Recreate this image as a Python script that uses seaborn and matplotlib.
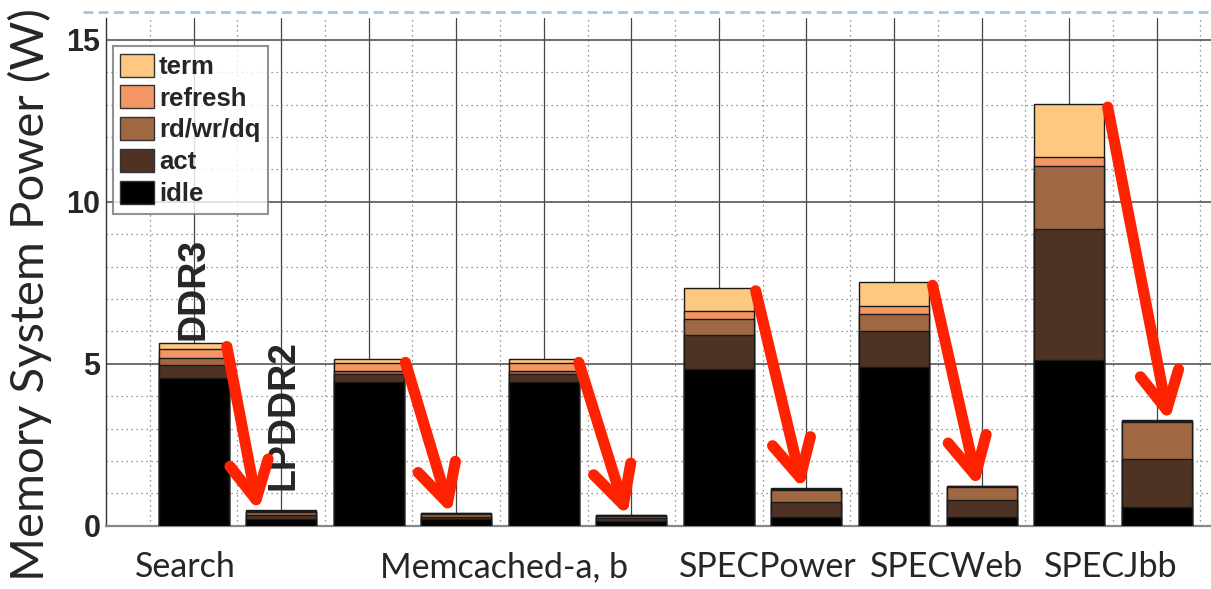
import numpy as np
import pandas as pd
import matplotlib
matplotlib.use("Agg")
import matplotlib.pyplot as plt
from matplotlib.patches import Patch
from matplotlib.lines import Line2D
import seaborn as sns

# one bar per (workload, memory type)
BARS = ["Search DDR3", "Search LPDDR2",
        "Memcached-a DDR3", "Memcached-a LPDDR2",
        "Memcached-b DDR3", "Memcached-b LPDDR2",
        "SPECPower DDR3", "SPECPower LPDDR2",
        "SPECWeb DDR3", "SPECWeb LPDDR2",
        "SPECJbb DDR3", "SPECJbb LPDDR2"]

# power components (W)
IDLE = [4.55, 0.20, 4.44, 0.20, 4.44, 0.16, 4.85, 0.27, 4.89, 0.27, 5.12, 0.57]
ACT = [0.41, 0.12, 0.23, 0.08, 0.23, 0.07, 1.04, 0.46, 1.12, 0.53, 4.04, 1.49]
RDWR = [0.21, 0.10, 0.10, 0.08, 0.10, 0.07, 0.48, 0.38, 0.51, 0.39, 1.93, 1.14]
REFRESH = [0.27, 0.04, 0.24, 0.02, 0.24, 0.02, 0.26, 0.03, 0.26, 0.03, 0.29, 0.04]
TERM = [0.19, 0.03, 0.13, 0.02, 0.13, 0.02, 0.72, 0.03, 0.74, 0.02, 1.64, 0.02]

COMPONENTS = ["idle", "act", "rd/wr/dq", "refresh", "term"]
COLORS = ["#000000", "#4e3223", "#a06842", "#f39664", "#fec880"]

GROUP_LABELS = ["Search", "Memcached-a, b", "SPECPower", "SPECWeb", "SPECJbb"]
GROUP_POS = [-0.09, 3.55, 6.56, 8.60, 10.47]

# arrow x offsets (start from DDR3 bar, end on LPDDR2 bar)
ARROW_FROM = [0, 2, 4, 6, 8, 10]
ARROW_START_DX = [0.38, 0.42, 0.40, 0.42, 0.44, 0.44]
ARROW_END_DX = [0.74, 0.94, 0.95, 0.96, 0.96, 1.14]

df = pd.DataFrame({"bar": BARS, "idle": IDLE, "act": ACT, "rd/wr/dq": RDWR,
                   "refresh": REFRESH, "term": TERM})
cum = df[COMPONENTS].cumsum(axis=1)
total = cum["term"].values

sns.set_style("white")
fig = plt.figure(figsize=(12.11, 5.89), dpi=100)
ax = fig.add_axes([106 / 1211, 1 - 525.7 / 589, 1 - 106 / 1211, (525.7 - 18) / 589])

# stacked bars: draw cumulative heights, tallest first
for comp, col in reversed(list(zip(COMPONENTS, COLORS))):
    sns.barplot(x=df["bar"], y=cum[comp], color=col, saturation=1, width=0.8,
                edgecolor="#1a1a1a", linewidth=1.0, ax=ax, zorder=3)

ax.set_xlim(-1, 11.62)
ax.set_ylim(0, 15.67)
ax.set_xticks(range(len(BARS)))
ax.set_xticks(np.arange(-0.5, len(BARS), 1), minor=True)
ax.set_yticks([0, 5, 10, 15])
ax.set_yticks(range(0, 16), minor=True)
ax.set_xticklabels([])
ax.set_xlabel("")
ax.set_ylabel("")
ax.grid(which="major", axis="x", color="#444444", linewidth=0.9, linestyle="-")
ax.grid(which="major", axis="y", color="#555555", linewidth=1.2, linestyle="-")
ax.grid(which="minor", color="#777777", linewidth=0.9, linestyle=(0, (1, 3)))
ax.set_axisbelow(True)
ax.tick_params(which="both", length=0)
ax.tick_params(axis="y", pad=4)
for lab in ax.get_yticklabels():
    lab.set_fontfamily("Liberation Sans")
    lab.set_fontweight("bold")
    lab.set_fontsize(22)

for side in ["top", "right"]:
    ax.spines[side].set_visible(False)
ax.spines["left"].set_color("#333333")
ax.spines["left"].set_linewidth(1.0)
ax.spines["bottom"].set_color("#888888")
ax.spines["bottom"].set_linewidth(1.6)

# memory type tags
ax.text(0, total[0] + 0.1, "DDR3", rotation=90, ha="center", va="bottom",
        fontsize=27, fontweight="bold", family="Liberation Sans", zorder=5)
ax.text(1.03, 1.1, "LPDDR2", rotation=90, ha="center", va="bottom",
        fontsize=27, fontweight="bold", family="Liberation Sans", zorder=5)

# red arrows DDR3 -> LPDDR2
for i, sdx, edx in zip(ARROW_FROM, ARROW_START_DX, ARROW_END_DX):
    ax.annotate("", xy=(i + edx, total[i + 1] - 0.05), xytext=(i + sdx, total[i] - 0.1),
                arrowprops=dict(arrowstyle="->,head_length=2.7,head_width=1.4",
                                color="#ff2200", linewidth=8.0, shrinkA=0, shrinkB=0,
                                capstyle="round", joinstyle="round", mutation_scale=10),
                zorder=6)

# workload labels under the axis
for lab, pos in zip(GROUP_LABELS, GROUP_POS):
    ax.text(pos, -0.081, lab, transform=ax.get_xaxis_transform(), ha="center",
            va="center", fontsize=24.5, family="Lato")

fig.text(30 / 1211, 1 - 295 / 589, "Memory System Power (W)", rotation=90,
         ha="center", va="center", fontsize=34, family="Lato")

handles = [Patch(facecolor=c, edgecolor="#333333", linewidth=1.0, label=n)
           for n, c in reversed(list(zip(COMPONENTS, COLORS)))]
leg = ax.legend(handles=handles, loc="upper left", bbox_to_anchor=(112.7 / 1211, 1 - 46 / 589),
                bbox_transform=fig.transFigure, borderaxespad=0, frameon=True, fancybox=False,
                prop={"family": "Liberation Sans", "weight": "bold", "size": 18.5},
                handlelength=1.3, handleheight=1.0, handletextpad=0.2, labelspacing=0.25,
                borderpad=0.3)
leg.get_frame().set_edgecolor("#777777")
leg.get_frame().set_linewidth(1.5)
leg.set_zorder(7)

# slide decoration line across the top
fig.add_artist(Line2D([83 / 1211, 1.0], [1 - 11.7 / 589, 1 - 11.7 / 589], transform=fig.transFigure,
                      color="#a9c4d8", linewidth=2.0, linestyle=(0, (3.5, 2))))

fig.savefig("out.png", dpi=100)
